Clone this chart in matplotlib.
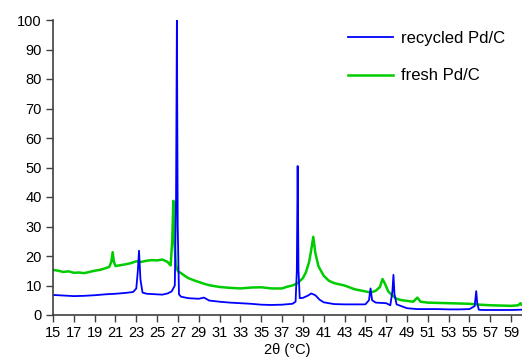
import matplotlib
matplotlib.use("Agg")
import matplotlib.pyplot as plt

plt.rcParams['font.family'] = ['Liberation Sans', 'DejaVu Sans']

# fresh Pd/C (green)
fresh_x = [15, 15.5, 16, 16.5, 17, 17.5, 18, 18.5, 19, 19.5, 20,
           20.4, 20.6, 20.73, 20.85, 21.0,
           21.5, 22, 22.5, 23, 23.5, 24, 24.5, 25, 25.5, 26,
           26.3, 26.45, 26.56, 26.68, 26.8,
           27.0, 27.3, 27.6, 28, 28.5, 29, 29.5, 30, 30.5, 31,
           32, 33, 34, 35, 36, 37, 37.5, 38, 38.5, 39,
           39.3, 39.6, 39.8, 40.0, 40.2, 40.5, 41, 41.5, 42,
           43, 44, 45, 45.5, 46, 46.4, 46.65, 46.9, 47.2, 47.6, 48,
           48.5, 49, 49.6, 50.0, 50.3,
           51, 52, 53, 54, 55, 56, 57, 58, 59,
           59.7, 59.9, 60]
fresh_y = [15.3, 15.0, 14.6, 14.8, 14.3, 14.4, 14.2, 14.6, 15.0, 15.3, 15.8,
           16.3, 18, 21.3, 18, 16.6,
           16.9, 17.2, 17.6, 18.2, 18.0, 18.4, 18.6, 18.5, 18.8, 18.0,
           16.8, 25, 38.7, 24, 17,
           14.8, 14.2, 13.4, 12.5, 11.8, 11.2, 10.6, 10.1, 9.8, 9.5,
           9.2, 9.0, 9.3, 9.4, 9.0, 9.0, 9.6, 10.0, 10.8, 12.5,
           14.5, 18, 22, 26.5, 21, 16.5, 13.3, 11.6, 10.8,
           10.0, 8.7, 8.0, 7.6, 8.2, 9.5, 12.2, 10.5, 8.0, 6.6, 5.5,
           5.0, 4.8, 4.5, 5.9, 4.5,
           4.2, 4.1, 4.0, 3.9, 3.8, 3.5, 3.3, 3.2, 3.1,
           3.3, 4.0, 3.5]

# recycled Pd/C (blue)
recycled_x = [15, 16, 17, 18, 19, 20, 21, 22,
              22.7, 23.0, 23.15, 23.26, 23.4, 23.6,
              24, 25, 25.5, 26, 26.4, 26.7,
              26.82, 26.9, 26.98, 27.1, 27.3,
              28, 29, 29.5, 30, 31, 32, 33, 34, 35, 36, 37, 38,
              38.3, 38.42, 38.5, 38.58, 38.7,
              39, 39.5, 39.8, 40.2, 40.6, 41,
              42, 43, 44, 45,
              45.35, 45.5, 45.65, 46,
              47, 47.4, 47.6, 47.7, 47.8, 48,
              49, 50, 51, 52, 53, 54, 55,
              55.5, 55.65, 55.75, 55.9, 56.2,
              57, 58, 59, 60]
recycled_y = [6.8, 6.6, 6.4, 6.5, 6.7, 7.0, 7.2, 7.5,
              7.8, 9, 15, 21.8, 12, 7.6,
              7.2, 7.0, 6.9, 7.3, 8.0, 10,
              40, 100, 30, 7, 6.2,
              5.7, 5.5, 5.9, 4.9, 4.5, 4.2, 4.0, 3.8, 3.5, 3.4, 3.5, 3.8,
              4.5, 15, 50.5, 15, 5.7,
              5.8, 6.6, 7.3, 6.7, 5.2, 4.3,
              3.7, 3.6, 3.6, 3.6,
              5, 9.0, 5, 4.2,
              4.0, 3.3, 8, 13.6, 7, 3.6,
              2.3, 2.0, 2.0, 2.0, 1.9, 1.9, 2.0,
              3, 8.1, 4, 1.8, 1.7,
              1.7, 1.7, 1.7, 1.8]

x_ticks = list(range(15, 61, 2))
y_ticks = list(range(0, 101, 10))

fig = plt.figure(figsize=(5.22, 3.58), dpi=100)
ax = fig.add_axes([53 / 522, 1 - 315 / 358, 468.5 / 522, 295 / 358])

l_fresh, = ax.plot(fresh_x, fresh_y, color='#00cc00', lw=1.8)
l_rec, = ax.plot(recycled_x, recycled_y, color='#0000ff', lw=1.3)

ax.set_xlim(15, 60)
ax.set_ylim(0, 100)
ax.set_xticks(x_ticks)
ax.set_yticks(y_ticks)
ax.tick_params(labelsize=10.5, length=5, width=1, color='#404040', pad=3)
for s in ['top', 'right']:
    ax.spines[s].set_visible(False)
for s in ['left', 'bottom']:
    ax.spines[s].set_color('#404040')
    ax.spines[s].set_linewidth(1.2)
ax.set_xlabel('2θ (°C)', fontsize=10.5, labelpad=2)

ax.legend([l_rec, l_fresh], ['recycled Pd/C', 'fresh Pd/C'],
          loc='upper left', bbox_to_anchor=(348 / 522, 1 - 31 / 358),
          bbox_transform=fig.transFigure, frameon=False, fontsize=12,
          handlelength=2.7, handletextpad=0.5, labelspacing=1.35,
          borderpad=0, borderaxespad=0)

fig.savefig('out.png', dpi=100)
